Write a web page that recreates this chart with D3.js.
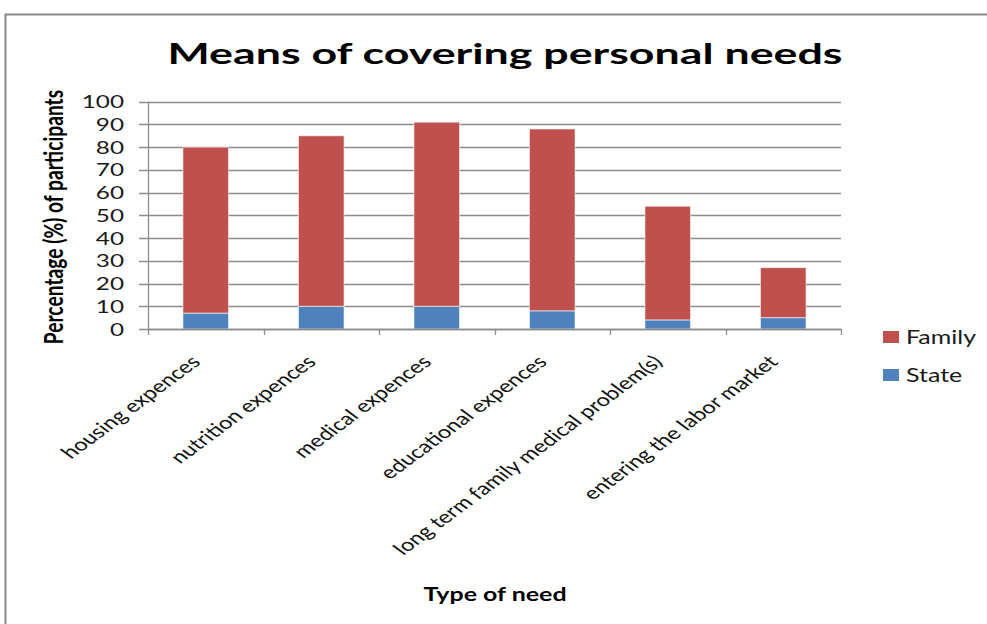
<!DOCTYPE html>
<html><head><meta charset="utf-8">
<script src="https://cdn.jsdelivr.net/npm/d3@7"></script>
<style>body{margin:0;background:#fff}svg{display:block}</style>
</head><body>
<script>
const categories = ["housing expences","nutrition expences","medical expences","educational expences","long term family medical problem(s)","entering the labor market"];
const stateValues = [7, 10, 10, 8, 4, 5];
const familyValues = [73, 75, 81, 80, 50, 22];
const yTicks = [0,10,20,30,40,50,60,70,80,90,100];
const seriesNames = ["Family","State"];
const colors = {Family:"#C0504D", State:"#4F81BD"};

const W=987,H=624, S=1.35, FONT="Lato, 'Open Sans', sans-serif";
const svg=d3.select("body").append("svg").attr("width",W).attr("height",H);
svg.append("rect").attr("x",5.5).attr("y",14.5).attr("width",1000).attr("height",700).attr("fill","#fff").attr("stroke","#888").attr("stroke-width",2);

const pL=148,pR=841,pT=101.7,pB=329;
const x=d3.scaleBand().domain(categories).range([pL,pR]).paddingInner(0.605).paddingOuter(0.3025);
const xb=d3.scaleBand().domain(categories).range([pL,pR]);
const y=d3.scaleLinear().domain([0,100]).range([pB,pT]);

// gridlines
svg.append("g").selectAll("line").data(yTicks).join("line")
 .attr("x1",pL-9).attr("x2",pR).attr("y1",d=>Math.round(y(d))+0.5).attr("y2",d=>Math.round(y(d))+0.5)
 .attr("stroke","#8c8c8c").attr("stroke-width",1.3);

const data=categories.map((c,i)=>({cat:c,State:stateValues[i],Family:familyValues[i]}));
const stack=d3.stack().keys(["State","Family"])(data);
svg.append("g").selectAll("g").data(stack).join("g").attr("fill",d=>colors[d.key])
 .selectAll("rect").data(d=>d).join("rect")
 .attr("x",d=>x(d.data.cat)).attr("width",x.bandwidth())
 .attr("y",d=>y(d[1])).attr("height",d=>y(d[0])-y(d[1]))
 .attr("stroke","rgba(255,255,255,0.6)").attr("stroke-width",1);

// y axis line
svg.append("line").attr("x1",pL+0.5).attr("x2",pL+0.5).attr("y1",pT).attr("y2",pB).attr("stroke","#8c8c8c").attr("stroke-width",1.3);
// x axis line
svg.append("line").attr("x1",pL).attr("x2",pR).attr("y1",Math.round(pB)+0.5).attr("y2",Math.round(pB)+0.5).attr("stroke","#8c8c8c").attr("stroke-width",1.3);
// x ticks at boundaries
const bounds=categories.map(c=>xb(c)).concat([pR]);
svg.append("g").selectAll("line").data(bounds).join("line")
 .attr("x1",d=>Math.round(d)+0.5).attr("x2",d=>Math.round(d)+0.5).attr("y1",pB).attr("y2",pB+6)
 .attr("stroke","#8c8c8c").attr("stroke-width",1.3);

// y tick labels
svg.append("g").selectAll("text").data(yTicks).join("text")
 .attr("transform",d=>`translate(124,${y(d)+6.5}) scale(${S},1)`).attr("text-anchor","end")
 .attr("font-family",FONT).attr("font-size",18).attr("fill","#1a1a1a").text(d=>d);

// x labels rotated
svg.append("g").selectAll("text").data(categories).join("text")
 .attr("transform",c=>`translate(${xb(c)+xb.bandwidth()/2-4},${pB+34}) scale(${S},1) rotate(-45)`)
 .attr("text-anchor","end").attr("font-family",FONT).attr("font-size",17.6).attr("fill","#111")
 .text(c=>c);

// title
svg.append("text").attr("transform",`translate(505,64) scale(${S},1)`).attr("text-anchor","middle")
 .attr("font-family",FONT).attr("font-weight","bold").attr("font-size",29).attr("fill","#000")
 .attr("textLength",675/S).attr("lengthAdjust","spacingAndGlyphs")
 .text("Means of covering personal needs");

// y title
svg.append("text").attr("transform",`translate(63,217) scale(${S},1) rotate(-90)`).attr("text-anchor","middle")
 .attr("font-family",FONT).attr("font-weight","bold").attr("font-size",19.2).attr("fill","#000")
 .text("Percentage (%) of participants");

// x title
svg.append("text").attr("transform",`translate(495,601) scale(${S},1)`).attr("text-anchor","middle")
 .attr("font-family",FONT).attr("font-weight","bold").attr("font-size",18.5).attr("fill","#000")
 .text("Type of need");

// legend
const lg=svg.append("g").selectAll("g").data(seriesNames).join("g")
 .attr("transform",(d,i)=>`translate(883,${331+i*38})`);
lg.append("rect").attr("width",16).attr("height",12).attr("fill",d=>colors[d]);
lg.append("text").attr("transform",`translate(23,12.5) scale(${S},1)`).attr("font-family",FONT).attr("font-size",18.5).attr("fill","#1a1a1a").text(d=>d);
</script>
</body></html>
